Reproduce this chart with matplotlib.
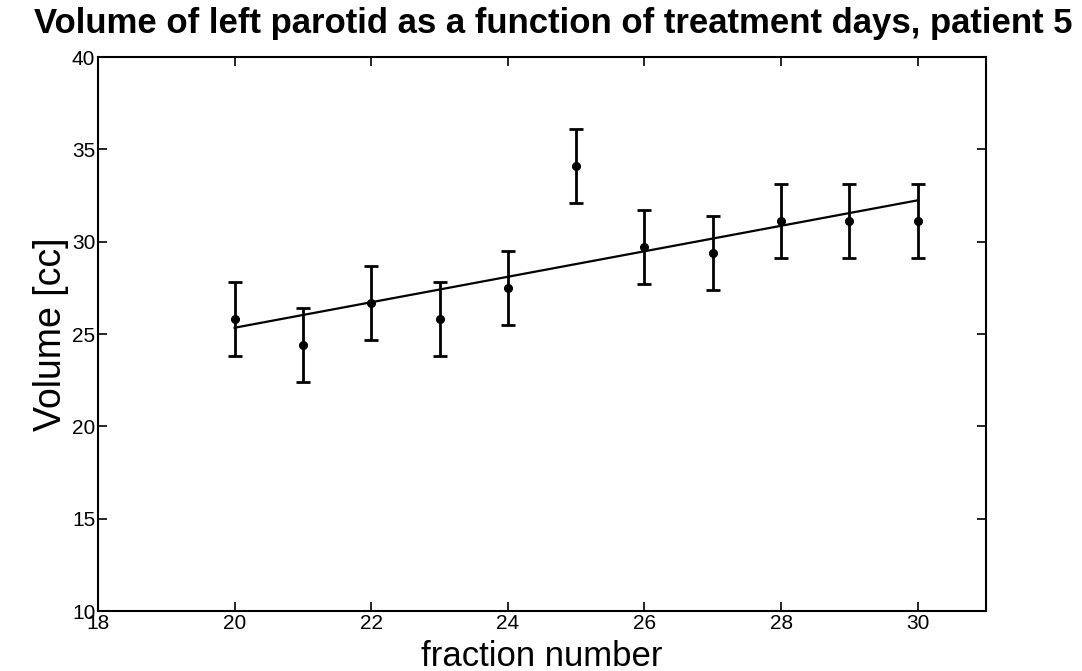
import numpy as np
import matplotlib
matplotlib.use('Agg')
import matplotlib.pyplot as plt

plt.rcParams['font.family'] = ['Liberation Sans', 'DejaVu Sans']

fraction = [20, 21, 22, 23, 24, 25, 26, 27, 28, 29, 30]
volume = [25.8, 24.4, 26.7, 25.8, 27.5, 34.1, 29.7, 29.4, 31.1, 31.1, 31.1]
volume_err = [2.0, 2.0, 2.0, 2.0, 2.0, 2.0, 2.0, 2.0, 2.0, 2.0, 2.0]

x = np.array(fraction, dtype=float)
y = np.array(volume)
slope, intercept = np.polyfit(x, y, 1)

fig = plt.figure(figsize=(10.82, 6.71), dpi=100)
ax = fig.add_axes([0.0906, 0.0894, 0.8207, 0.8256])

ax.errorbar(x, y, yerr=volume_err, fmt='.', color='black', ecolor='black',
            markersize=11, elinewidth=2, capsize=5, capthick=2)
ax.plot(x, slope * x + intercept, color='black', linewidth=1.6)

ax.set_xlim(18, 31)
ax.set_ylim(10, 40)
ax.set_xticks(np.arange(18, 31, 2))
ax.set_yticks(np.arange(10, 41, 5))
ax.tick_params(direction='in', top=True, right=True, length=6.5, width=1.2,
               labelsize=15, pad=2)
for s in ax.spines.values():
    s.set_linewidth(1.5)

ax.set_xlabel('fraction number', fontsize=25, labelpad=5)
ax.set_ylabel('Volume [cc]', fontsize=27, labelpad=2)
fig.suptitle('Volume of left parotid as a function of treatment days, patient 5',
             fontsize=25, fontweight='bold', x=0.511, y=0.99)

fig.savefig('out.png', dpi=100)
